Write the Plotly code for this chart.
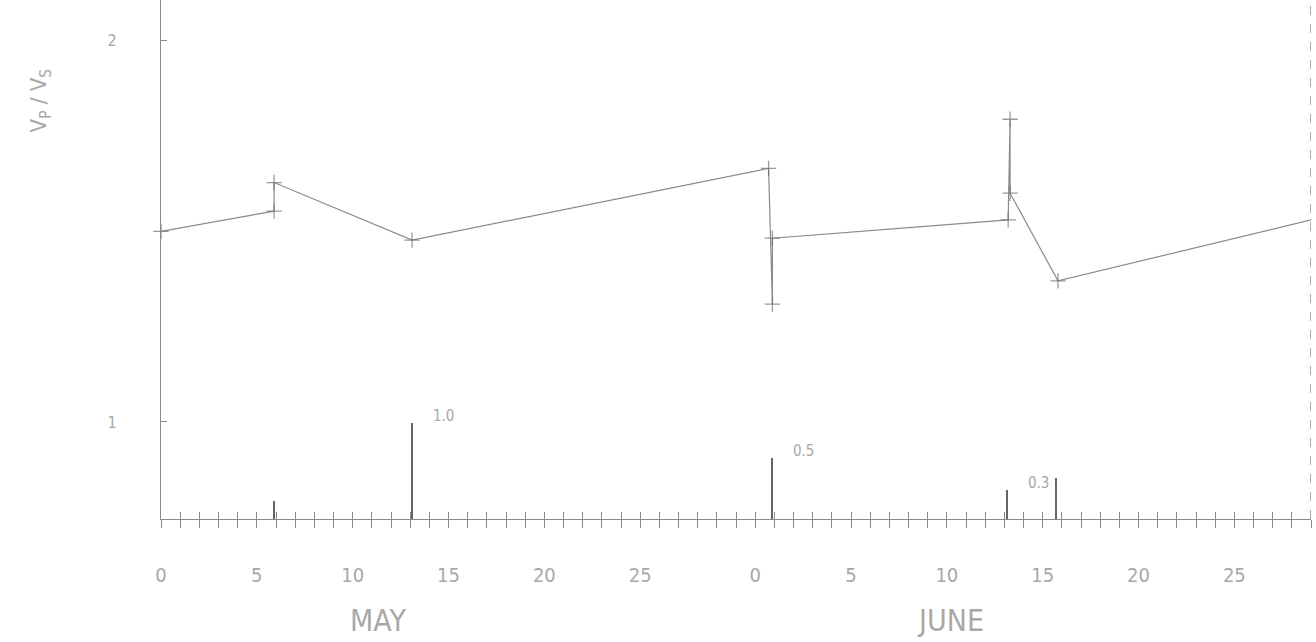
import plotly.graph_objects as go

# ---- data (days counted from "May 0"; June 0 = day 31) ----
days = [0, 5.9, 5.9, 13.1, 31.7, 31.9, 31.9, 44.2, 44.3, 44.3, 46.8, 60]
vp_vs = [1.50, 1.553, 1.628, 1.477, 1.665, 1.309, 1.482, 1.530, 1.794, 1.600, 1.370, 1.530]

rain_days = [5.9, 13.1, 31.9, 44.15, 46.7]
rain = [0.19, 1.0, 0.64, 0.30, 0.43]
rain_labels = ["", "1.0", "0.5", "0.3", ""]

may_ticks = [0, 5, 10, 15, 20, 25]
june_ticks = [0, 5, 10, 15, 20, 25]
june_offset = 31
y_ticks = [1, 2]
months = ["MAY", "JUNE"]

FONT = "Liberation Sans Narrow, DejaVu Sans Condensed, Arial Narrow, sans-serif"
GRAY = "#8a8a8a"
TXT = "#a8a8a8"

# tick labels: daily ticks, labels every 5 days
tick_map = {d: str(d) for d in may_ticks}
tick_map.update({d + june_offset: str(d) for d in june_ticks})
tickvals = list(range(0, 61))
ticktext = [tick_map.get(v, "") for v in tickvals]

# no cross on the open end of the line
marker_sizes = [11] * (len(days) - 1) + [0]

fig = go.Figure()

fig.add_trace(go.Scatter(
    x=days, y=vp_vs, mode="lines+markers",
    line=dict(color=GRAY, width=1.2),
    marker=dict(symbol="cross-thin", size=marker_sizes,
                line=dict(width=1.3, color="#707070")),
    cliponaxis=False, hoverinfo="x+y",
))

fig.add_trace(go.Bar(
    x=rain_days, y=rain, xaxis="x2", yaxis="y2",
    width=0.09, marker=dict(color="#666666", line=dict(width=0)),
))

for d, v, lab in zip(rain_days, rain, rain_labels):
    if lab:
        fig.add_annotation(x=d, y=v, xref="x2", yref="y2", text=lab,
                           showarrow=False, xanchor="left", yanchor="middle",
                           xshift=19, yshift=7,
                           font=dict(family=FONT, size=15, color=TXT))

# month labels
fig.add_annotation(x=11.3, y=-0.195, xref="x", yref="paper", text=months[0],
                   showarrow=False, yanchor="middle",
                   font=dict(family=FONT, size=30, color=TXT))
fig.add_annotation(x=41.2, y=-0.195, xref="x", yref="paper", text=months[1],
                   showarrow=False, yanchor="middle",
                   font=dict(family=FONT, size=30, color=TXT))

# y axis title
fig.add_annotation(x=-0.105, y=0.807, xref="paper", yref="paper",
                   text="V<sub>P</sub> / V<sub>S</sub>", textangle=-90,
                   showarrow=False, xanchor="center", yanchor="middle",
                   font=dict(family=FONT, size=22, color=TXT))

# right border (dashed)
fig.add_shape(type="line", x0=60, x1=60, xref="x", y0=0, y1=1, yref="paper",
              layer="above", line=dict(color="#777777", width=1.2, dash="dash"))

fig.update_layout(
    width=1316, height=642,
    margin=dict(l=161, r=5, t=0, b=123, autoexpand=False),
    plot_bgcolor="white", paper_bgcolor="white",
    showlegend=False, bargap=0,
    xaxis=dict(range=[0, 60], tickmode="array", tickvals=tickvals, ticktext=ticktext,
               ticks="outside", ticklen=8, tickwidth=1, tickcolor=GRAY,
               showline=True, linecolor=GRAY, linewidth=1,
               showgrid=False, zeroline=False, ticklabelstandoff=30, automargin=False,
               tickfont=dict(family=FONT, size=20, color=TXT)),
    xaxis2=dict(range=[0, 60], overlaying="x", anchor="y", side="bottom",
                tickmode="array", tickvals=tickvals, showticklabels=False,
                ticks="inside", ticklen=7, tickwidth=1, tickcolor=GRAY, automargin=False,
                showline=False, showgrid=False, zeroline=False),
    yaxis=dict(range=[0.7456, 2.1067], tickmode="array", tickvals=y_ticks,
               ticktext=[str(v) for v in y_ticks],
               ticks="inside", ticklen=6, tickcolor=GRAY,
               showline=True, linecolor=GRAY, linewidth=1.3, automargin=False,
               showgrid=False, zeroline=False, ticklabelstandoff=40,
               tickfont=dict(family=FONT, size=16, color=TXT)),
    yaxis2=dict(range=[0, 5.406], overlaying="y", side="left", anchor="x",
                showticklabels=False, ticks="", showline=False, automargin=False,
                showgrid=False, zeroline=False),
)

fig.write_html("out.html", config={"displayModeBar": False},
               post_script="document.body.style.margin='0';document.body.style.padding='0';")
